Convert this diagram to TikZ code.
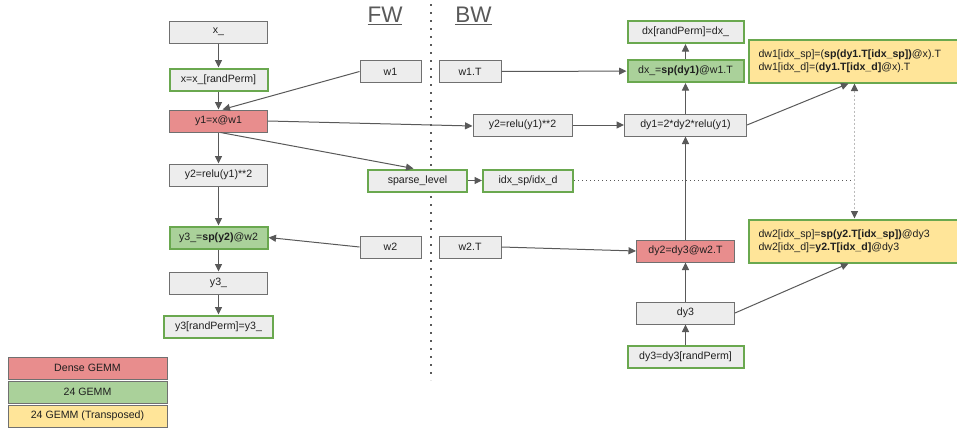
\documentclass[tikz,border=0pt]{standalone}
\usepackage{fontspec}
\setmainfont{Liberation Sans}
\usetikzlibrary{arrows.meta}
\definecolor{boxgray}{HTML}{EDEDED}
\definecolor{bordergray}{HTML}{707070}
\definecolor{grn}{HTML}{6AA84F}
\definecolor{grnfill}{HTML}{AAD19A}
\definecolor{redfill}{HTML}{E88D8D}
\definecolor{yel}{HTML}{FFE599}
\definecolor{arrgray}{HTML}{595959}
\definecolor{dotgray}{HTML}{BBBBBB}
\definecolor{txt}{HTML}{1F1F1F}
\newcommand\boxfont{\fontsize{10.6}{13}\selectfont}
\tikzset{
  box/.style={draw=bordergray, fill=boxgray, line width=1pt, inner sep=0pt,
    minimum height=22pt, font=\boxfont, text=txt},
  gbox/.style={box, draw=grn, line width=2pt},
  gfbox/.style={gbox, fill=grnfill},
  rbox/.style={box, fill=redfill},
  ybox/.style={draw=grn, line width=2pt, fill=yel, font=\boxfont, text=txt,
    align=left, text width=192pt, inner xsep=10pt, inner ysep=0pt, minimum height=43pt},
  arr/.style={-{Triangle[length=7.5pt,width=7pt]}, line width=1pt, draw=arrgray},
  title/.style={font=\fontsize{22.5}{24}\selectfont, text=arrgray, inner sep=0pt}
}
\begin{document}
\begin{tikzpicture}[x=1pt,y=-1pt]
\useasboundingbox (0,0) rectangle (957,431);
\clip (0,0) rectangle (957,431);

% divider
\draw[arrgray, line width=2pt, dash pattern=on 2pt off 6pt] (430.5,4) -- (430.5,380);
\node[title] (fw) at (385,16) {\underline{FW}};
\node[title] (bw) at (473.5,16) {\underline{BW}};

% forward column
\node[box, minimum width=98pt] (xu) at (218.5,32) {x\_};
\node[gbox, minimum width=98pt] (xp) at (218.5,79.5) {x=x\_[randPerm]};
\node[rbox, minimum width=98pt] (y1) at (218.5,121) {y1=x@w1};
\node[box, minimum width=98pt] (y2) at (218.5,175) {y2=relu(y1)**2};
\node[gfbox, minimum width=98pt] (y3s) at (218.5,237.5) {y3\_=\textbf{sp(y2)}@w2};
\node[box, minimum width=98pt] (y3u) at (218.5,283) {y3\_};
\node[gbox, minimum width=109pt] (y3p) at (218.5,326.5) {y3[randPerm]=y3\_};

\node[box, minimum width=61pt] (w1) at (390.5,71.5) {w1};
\node[box, minimum width=61pt] (w2) at (390.5,247) {w2};
\node[gbox, minimum width=99pt] (sp) at (417.5,180.5) {sparse\_level};

% backward
\node[box, minimum width=62pt] (w1T) at (470,71.5) {w1.T};
\node[box, minimum width=62pt] (w2T) at (470,247) {w2.T};
\node[box, minimum width=99pt] (y2b) at (522.5,125) {y2=relu(y1)**2};
\node[gbox, minimum width=90pt] (idx) at (528,180.5) {idx\_sp/idx\_d};

\node[gbox, minimum width=116pt] (dxp) at (685.5,32) {dx[randPerm]=dx\_};
\node[gfbox, minimum width=116pt] (dxs) at (685.5,71) {dx\_=\textbf{sp(dy1)}@w1.T};
\node[box, minimum width=122pt] (dy1) at (685.5,125) {dy1=2*dy2*relu(y1)};
\node[rbox, minimum width=98pt] (dy2) at (685.5,251) {dy2=dy3@w2.T};
\node[box, minimum width=98pt] (dy3) at (685.5,313) {dy3};
\node[gbox, minimum width=116pt] (dy3p) at (685.5,356.5) {dy3=dy3[randPerm]};

\node[ybox] (dw1) at (854.5,61) {dw1[idx\_sp]=(\textbf{sp(dy1.T[idx\_sp])}@x).T\\dw1[idx\_d]=(\textbf{dy1.T[idx\_d]}@x).T};
\node[ybox] (dw2) at (854.5,241) {dw2[idx\_sp]=\textbf{sp(y2.T[idx\_sp])}@dy3\\dw2[idx\_d]=\textbf{y2.T[idx\_d]}@dy3};

% legend
\node[rbox, minimum width=159pt] (lg1) at (87.5,368) {Dense GEMM};
\node[box, fill=grnfill, minimum width=159pt] (lg2) at (87.5,392) {24 GEMM};
\node[box, fill=yel, minimum width=159pt] (lg3) at (87.5,416) {24 GEMM (Transposed)};

% forward connectors
\draw[arr] (xu) -- (xp);
\draw[arr] (xp) -- (y1);
\draw[arr] (w1.west) -- ([xshift=4pt]y1.north);
\draw[arr] (y1) -- (y2);
\draw[arr] (y2) -- (y3s);
\draw[arr] (w2.west) -- (y3s.east);
\draw[arr] (y3s) -- (y3u);
\draw[arr] (y3u) -- (y3p);
\draw[arr] (y1.east) -- ([yshift=-1pt]y2b.west);
\draw[arr] ([xshift=2pt]y1.south) -- ([xshift=-4pt]sp.north);
\draw[arr] (sp) -- (idx);

% backward connectors
\draw[arr] (w1T) -- (dxs);
\draw[arr] (dxs) -- (dxp);
\draw[arr] (dy1) -- (dxs);
\draw[arr] (y2b) -- (dy1);
\draw[arr] (dy1.east) -- ([xshift=-6pt]dw1.south);
\draw[arr] (dy2) -- (dy1);
\draw[arr] (w2T.east) -- (dy2.west);
\draw[arr] (dy3) -- (dy2);
\draw[arr] (dy3p) -- (dy3);
\draw[arr] (dy3.east) -- ([xshift=-6pt]dw2.south);

% dotted index links
\coordinate (jn) at (dw1.south |- idx.east);
\draw[arrgray, line width=0.9pt, dash pattern=on 1pt off 3pt] (idx.east) -- (jn);
\draw[dotgray, line width=1.4pt, dash pattern=on 2pt off 2pt,
  {Triangle[length=7.5pt,width=7pt,color=arrgray]}-{Triangle[length=7.5pt,width=7pt,color=arrgray]}]
  (dw1.south) -- (dw2.north);
\end{tikzpicture}
\end{document}
